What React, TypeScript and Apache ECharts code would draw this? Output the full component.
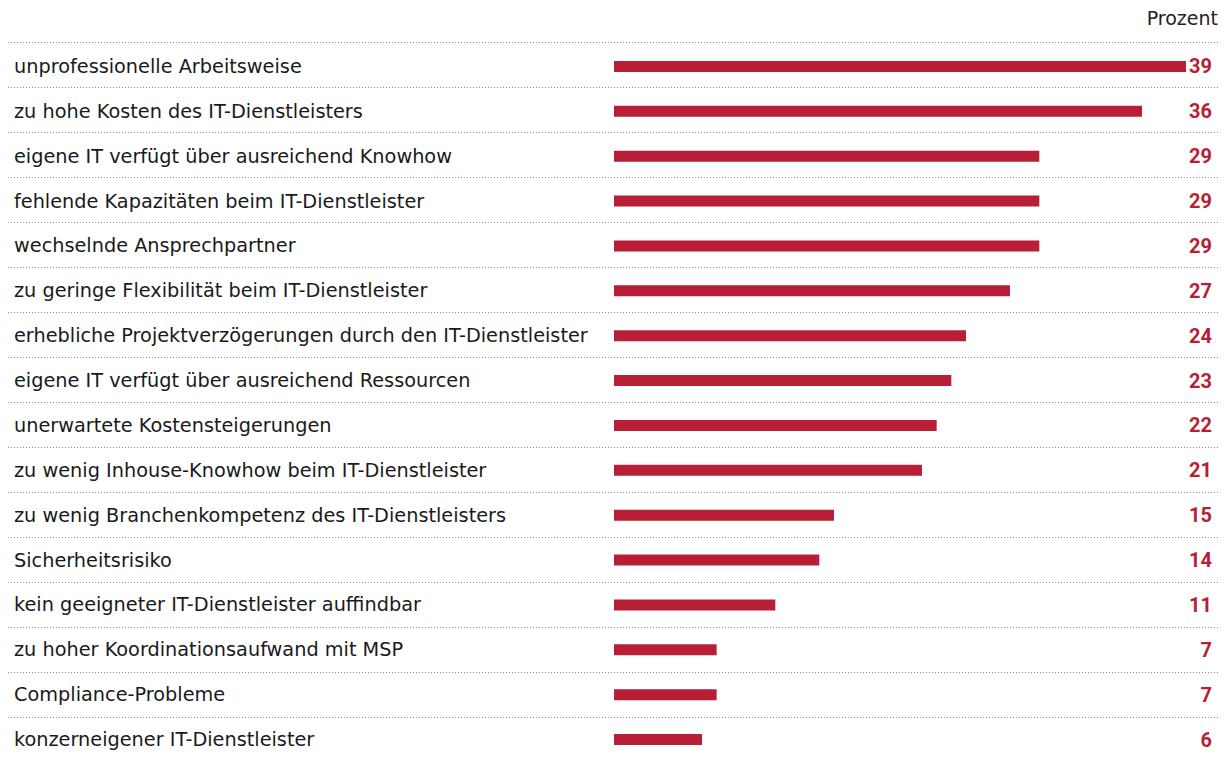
import React, { useEffect, useRef } from "react";
import * as echarts from "echarts";

const categories = [
  "unprofessionelle Arbeitsweise",
  "zu hohe Kosten des IT-Dienstleisters",
  "eigene IT verfügt über ausreichend Knowhow",
  "fehlende Kapazitäten beim IT-Dienstleister",
  "wechselnde Ansprechpartner",
  "zu geringe Flexibilität beim IT-Dienstleister",
  "erhebliche Projektverzögerungen durch den IT-Dienstleister",
  "eigene IT verfügt über ausreichend Ressourcen",
  "unerwartete Kostensteigerungen",
  "zu wenig Inhouse-Knowhow beim IT-Dienstleister",
  "zu wenig Branchenkompetenz des IT-Dienstleisters",
  "Sicherheitsrisiko",
  "kein geeigneter IT-Dienstleister auffindbar",
  "zu hoher Koordinationsaufwand mit MSP",
  "Compliance-Probleme",
  "konzerneigener IT-Dienstleister",
];

const values = [39, 36, 29, 29, 29, 27, 24, 23, 22, 21, 15, 14, 11, 7, 7, 6];

const unitLabel = "Prozent";

const RED = "#b81e35";
const FONT = "DejaVu Sans";

export default function App() {
  const ref = useRef<HTMLDivElement>(null);

  useEffect(() => {
    if (!ref.current) return;
    const chart = echarts.init(ref.current, null, { renderer: "svg" });
    const rowH = 45.27;
    const gridH = rowH * categories.length;
    chart.setOption({
      animation: false,
      textStyle: { fontFamily: FONT },
      title: {
        text: unitLabel,
        right: 12,
        top: 8,
        padding: 0,
        textStyle: { fontFamily: FONT, fontSize: 19, fontWeight: "normal", color: "#222" },
      },
      grid: [
        { left: 8, right: 10, top: 42, height: gridH },
        { left: 8, right: 10, top: 44, height: gridH },
      ],
      xAxis: [
        { type: "value", gridIndex: 0, min: 0, max: 1, show: false },
        { type: "value", gridIndex: 1, min: -41.32, max: 41.32, show: false },
      ],
      yAxis: [
        {
          type: "category",
          gridIndex: 0,
          data: categories,
          inverse: true,
          axisLine: { show: false },
          axisTick: { show: false },
          axisLabel: { show: false },
          splitLine: {
            show: true,
            lineStyle: { color: "#8a8a8a", width: 1, type: [1, 2] },
          },
        },
        {
          type: "category",
          gridIndex: 1,
          data: categories,
          inverse: true,
          position: "left",
          axisLine: { show: false },
          axisTick: { show: false },
          splitLine: { show: false },
          axisLabel: {
            inside: true,
            margin: 6,
            color: "#1a1a1a",
            fontSize: 19.3,
            fontFamily: FONT,
          },
        },
        {
          type: "category",
          gridIndex: 1,
          data: values.map((v) => String(v)),
          inverse: true,
          position: "right",
          axisLine: { show: false },
          axisTick: { show: false },
          splitLine: { show: false },
          axisLabel: {
            inside: true,
            margin: 8,
            color: RED,
            fontSize: 20,
            fontWeight: "bold",
            fontFamily: "Roboto",
          },
        },
      ],
      series: [
        {
          type: "bar",
          xAxisIndex: 1,
          yAxisIndex: 1,
          data: values,
          barWidth: 11,
          itemStyle: { color: RED },
          silent: true,
        },
      ],
    });
    return () => chart.dispose();
  }, []);

  return (
    <div
      ref={ref}
      style={{ position: "absolute", left: 0, top: 0, width: 1230, height: 762, background: "#fff" }}
    />
  );
}
